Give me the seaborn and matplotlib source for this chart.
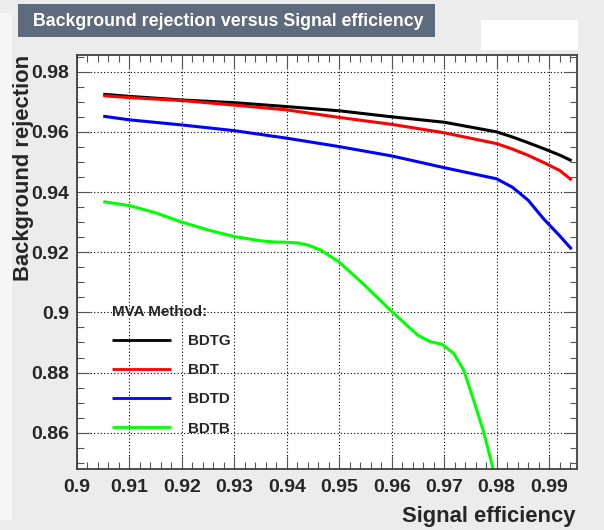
import matplotlib
matplotlib.use("Agg")
import matplotlib.pyplot as plt
from matplotlib.patches import Rectangle
from matplotlib.ticker import FixedLocator, MultipleLocator
import numpy as np
import pandas as pd
import seaborn as sns

# ROC curves: background rejection versus signal efficiency for four BDT variants
methods = ["BDTG", "BDT", "BDTD", "BDTB"]
colors = ["#000000", "#ff0000", "#0000ff", "#00ff00"]

eff_common = [0.905, 0.91, 0.92, 0.93, 0.94, 0.95, 0.96, 0.97, 0.98,
              0.983, 0.986, 0.989, 0.992, 0.9943]
rej_bdtg = [0.9725, 0.9718, 0.9706, 0.9697, 0.9684, 0.9670, 0.9650, 0.9632,
            0.9600, 0.9583, 0.9564, 0.9544, 0.9523, 0.9504]
rej_bdt = [0.9720, 0.9714, 0.9704, 0.9689, 0.9673, 0.9648, 0.9625, 0.9597,
           0.9561, 0.9543, 0.9522, 0.9498, 0.9472, 0.9440]
rej_bdtd = [0.9652, 0.9640, 0.9623, 0.9604, 0.9579, 0.9551, 0.9520, 0.9481,
            0.9444, 0.9416, 0.9373, 0.9310, 0.9255, 0.9210]

eff_bdtb = [0.905, 0.91, 0.915, 0.92, 0.925, 0.93, 0.935, 0.9375, 0.94,
            0.942, 0.944, 0.9465, 0.95, 0.955, 0.96, 0.965, 0.9673, 0.9696,
            0.9718, 0.9737, 0.9756, 0.9775, 0.9793, 0.9800]
rej_bdtb = [0.9368, 0.9355, 0.9331, 0.9300, 0.9274, 0.9252, 0.9238, 0.9234,
            0.9233, 0.9231, 0.9224, 0.9207, 0.9167, 0.9088, 0.9003, 0.8924,
            0.8903, 0.8894, 0.8864, 0.8809, 0.8709, 0.8604, 0.8482, 0.8430]

x_ticks = [0.90, 0.91, 0.92, 0.93, 0.94, 0.95, 0.96, 0.97, 0.98, 0.99]
x_tick_labels = ["0.9", "0.91", "0.92", "0.93", "0.94", "0.95", "0.96",
                 "0.97", "0.98", "0.99"]
y_ticks = [0.86, 0.88, 0.90, 0.92, 0.94, 0.96, 0.98]
y_tick_labels = ["0.86", "0.88", "0.9", "0.92", "0.94", "0.96", "0.98"]

frames = []
for name, xs, ys in [("BDTG", eff_common, rej_bdtg),
                     ("BDT", eff_common, rej_bdt),
                     ("BDTD", eff_common, rej_bdtd),
                     ("BDTB", eff_bdtb, rej_bdtb)]:
    frames.append(pd.DataFrame({"eff": xs, "rej": ys, "method": name}))
df = pd.concat(frames, ignore_index=True)

sns.set_style("ticks")
plt.rcParams["font.family"] = ["Liberation Sans", "DejaVu Sans"]
plt.rcParams["font.weight"] = "bold"

W, H = 604, 530
fig = plt.figure(figsize=(W / 100, H / 100), dpi=100)
fig.patch.set_facecolor("#ececec")


def fx(px):
    return px / W


def fy(py):
    return 1 - py / H


# side strip and header elements
fig.patches.append(Rectangle((0, fy(520)), fx(12), fy(13) - fy(520),
                             transform=fig.transFigure, facecolor="#f6f6f6",
                             edgecolor="none", zorder=0))
fig.patches.append(Rectangle((fx(18), fy(37)), fx(435) - fx(18), fy(4) - fy(37),
                             transform=fig.transFigure, facecolor="#5d6b7d",
                             edgecolor="none", zorder=1))
fig.patches.append(Rectangle((fx(481), fy(50)), fx(578) - fx(481), fy(20) - fy(50),
                             transform=fig.transFigure, facecolor="white",
                             edgecolor="none", zorder=1))
fig.text(fx(33), fy(25.5), "Background rejection versus Signal efficiency",
         color="white", fontsize=12.8, fontweight="bold", va="baseline",
         ha="left", zorder=2)

ax = fig.add_axes([fx(77), fy(469), fx(577) - fx(77), fy(55) - fy(469)])
ax.set_facecolor("white")

sns.lineplot(data=df, x="eff", y="rej", hue="method", hue_order=methods,
             palette=dict(zip(methods, colors)), sort=False, estimator=None,
             linewidth=2.2, ax=ax, legend=True)
for ln in ax.lines:
    ln.set_solid_capstyle("butt")
    ln.set_solid_joinstyle("round")

ax.set_xlim(0.9, 0.99532)
ax.set_ylim(0.84794, 0.98555)

ax.xaxis.set_major_locator(FixedLocator(x_ticks))
ax.set_xticklabels(x_tick_labels)
ax.xaxis.set_minor_locator(MultipleLocator(0.002))
ax.yaxis.set_major_locator(FixedLocator(y_ticks))
ax.set_yticklabels(y_tick_labels)
ax.yaxis.set_minor_locator(MultipleLocator(0.005))

ax.grid(True, which="major", color="black", linestyle=(0, (1, 2)),
        linewidth=0.8)
ax.set_axisbelow(True)

ax.tick_params(which="both", direction="in", top=True, right=True,
               color="#555555", width=0.8, labelsize=14)
ax.tick_params(which="major", length=9.4)
ax.tick_params(which="minor", length=4.7)
ax.tick_params(axis="x", which="major", pad=7.2)
ax.tick_params(axis="y", which="major", pad=5.8)
for lab in ax.get_xticklabels() + ax.get_yticklabels():
    lab.set_fontweight("bold")

for sp in ax.spines.values():
    sp.set_color("#404040")
    sp.set_linewidth(1.3)

ax.set_xlabel("")
ax.set_ylabel("")
fig.text(fx(575), fy(521.7), "Signal efficiency", fontsize=15.8,
         fontweight="bold", ha="right", va="baseline")
fig.text(fx(29), fy(55), "Background rejection", fontsize=15.8,
         fontweight="bold", ha="right", va="baseline", rotation=90,
         rotation_mode="anchor")

handles, labels = ax.get_legend_handles_labels()
for h in handles:
    h.set_linewidth(2.0)
leg = ax.legend(handles, labels, title="MVA Method:", loc="upper left",
                bbox_to_anchor=(fx(112), fy(305)), bbox_transform=fig.transFigure,
                frameon=False, fontsize=10.9, title_fontsize=10.9,
                handlelength=3.9, handletextpad=1.1, labelspacing=1.0,
                borderpad=0, borderaxespad=0, alignment="left")
leg.get_title().set_fontweight("bold")
for t in leg.get_texts():
    t.set_fontweight("bold")

fig.savefig("out.png", dpi=100, facecolor=fig.get_facecolor())
